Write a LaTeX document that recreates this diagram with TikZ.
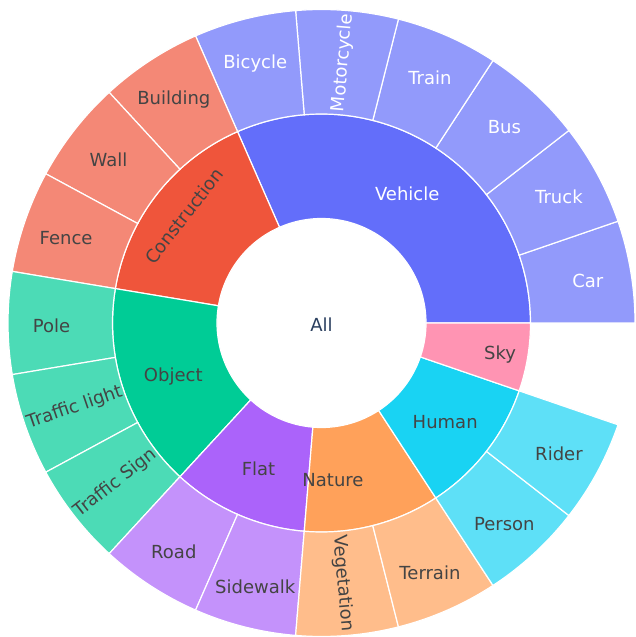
\documentclass[tikz,border=0pt]{standalone}
\usepackage{fontspec}
\setmainfont{DejaVu Sans}

\definecolor{vehicle}{HTML}{636EFA}
\definecolor{construction}{HTML}{EF553B}
\definecolor{object}{HTML}{00CC96}
\definecolor{flat}{HTML}{AB63FA}
\definecolor{nature}{HTML}{FFA15A}
\definecolor{human}{HTML}{19D3F3}
\definecolor{sky}{HTML}{FF6692}
\definecolor{darktext}{HTML}{444444}
\definecolor{alltext}{HTML}{2A3F5F}

% one slice = 360/19 degrees
\def\unitang{18.947368}
% ring piece: start slice, end slice, inner radius, outer radius, fill
\newcommand{\ringpart}[5]{%
  \fill[#5, draw=white, line width=1.2pt]
    ({#1*\unitang}:#3pt) arc[start angle={#1*\unitang}, end angle={#2*\unitang}, radius=#3pt]
    -- ({#2*\unitang}:#4pt) arc[start angle={#2*\unitang}, end angle={#1*\unitang}, radius=#4pt]
    -- cycle;}

\tikzset{
  lbl/.style={font=\fontsize{18}{21}\selectfont, text=darktext, inner sep=0pt},
  lightlbl/.style={lbl, text=white}
}

\begin{document}
\begin{tikzpicture}
\useasboundingbox (-321.5pt,-314pt) rectangle (314.5pt,323pt);

% Inner ring
\ringpart{0}{6}{104.5}{209}{vehicle}
\ringpart{6}{9}{104.5}{209}{construction}
\ringpart{9}{12}{104.5}{209}{object}
\ringpart{12}{14}{104.5}{209}{flat}
\ringpart{14}{16}{104.5}{209}{nature}
\ringpart{16}{18}{104.5}{209}{human}
\ringpart{18}{19}{104.5}{209}{sky!70!white}

% Outer ring
\ringpart{0}{1}{209}{313.5}{vehicle!70!white}
\ringpart{1}{2}{209}{313.5}{vehicle!70!white}
\ringpart{2}{3}{209}{313.5}{vehicle!70!white}
\ringpart{3}{4}{209}{313.5}{vehicle!70!white}
\ringpart{4}{5}{209}{313.5}{vehicle!70!white}
\ringpart{5}{6}{209}{313.5}{vehicle!70!white}
\ringpart{6}{7}{209}{313.5}{construction!70!white}
\ringpart{7}{8}{209}{313.5}{construction!70!white}
\ringpart{8}{9}{209}{313.5}{construction!70!white}
\ringpart{9}{10}{209}{313.5}{object!70!white}
\ringpart{10}{11}{209}{313.5}{object!70!white}
\ringpart{11}{12}{209}{313.5}{object!70!white}
\ringpart{12}{13}{209}{313.5}{flat!70!white}
\ringpart{13}{14}{209}{313.5}{flat!70!white}
\ringpart{14}{15}{209}{313.5}{nature!70!white}
\ringpart{15}{16}{209}{313.5}{nature!70!white}
\ringpart{16}{17}{209}{313.5}{human!70!white}
\ringpart{17}{18}{209}{313.5}{human!70!white}

% Centre
\node[lbl, text=alltext, yshift=-2pt] (all) at (0,0) {All};

% Inner labels
\node[lightlbl, yshift=-2pt] (vehiclel) at ({3*\unitang}:156.75pt) {Vehicle};
\node[lbl, rotate=52.1] (constructionl) at (-137.5pt,107pt) {Construction};
\node[lbl, yshift=-2.5pt] (objectl) at ({10.5*\unitang}:156.75pt) {Object};
\node[lbl, yshift=-2.5pt] (flatl) at ({13*\unitang}:156.75pt) {Flat};
\node[lbl] (naturel) at (11.5pt,-157pt) {Nature};
\node[lbl, yshift=-2.5pt] (humanl) at ({17*\unitang}:156.75pt) {Human};
\node[lbl] (skyl) at (178.5pt,-32pt) {Sky};

% Outer labels
\node[lightlbl, yshift=-2.5pt] (car) at ({0.5*\unitang}:270pt) {Car};
\node[lightlbl, yshift=-2.5pt] (truck) at ({1.5*\unitang}:270pt) {Truck};
\node[lightlbl, yshift=-2.5pt] (bus) at ({2.5*\unitang}:270pt) {Bus};
\node[lightlbl, yshift=-2.5pt] (train) at ({3.5*\unitang}:270pt) {Train};
\node[lightlbl, rotate=85.26] (motorcycle) at ({4.5*\unitang}:261pt) {Motorcycle};
\node[lightlbl, yshift=-2.5pt] (bicycle) at ({5.5*\unitang}:270pt) {Bicycle};
\node[lbl, yshift=-2.5pt] (building) at ({6.5*\unitang}:270pt) {Building};
\node[lbl, yshift=-2.5pt] (wall) at ({7.5*\unitang}:270pt) {Wall};
\node[lbl, yshift=-2.5pt] (fence) at ({8.5*\unitang}:270pt) {Fence};
\node[lbl, yshift=-2.5pt] (pole) at ({9.5*\unitang}:270pt) {Pole};
\node[lbl, rotate=18.95] (trafficlight) at ({10.5*\unitang}:261pt) {Traffic light};
\node[lbl, rotate=37.89] (trafficsign) at ({11.5*\unitang}:261pt) {Traffic Sign};
\node[lbl, yshift=-2.5pt] (road) at ({12.5*\unitang}:270pt) {Road};
\node[lbl, yshift=-2.5pt] (sidewalk) at ({13.5*\unitang}:270pt) {Sidewalk};
\node[lbl, rotate=-85.26] (vegetation) at ({14.5*\unitang}:261pt) {Vegetation};
\node[lbl, yshift=-2.5pt] (terrain) at ({15.5*\unitang}:270pt) {Terrain};
\node[lbl, yshift=-2.5pt] (person) at ({16.5*\unitang}:270pt) {Person};
\node[lbl, yshift=-2.5pt] (rider) at ({17.5*\unitang}:270pt) {Rider};

\end{tikzpicture}
\end{document}
